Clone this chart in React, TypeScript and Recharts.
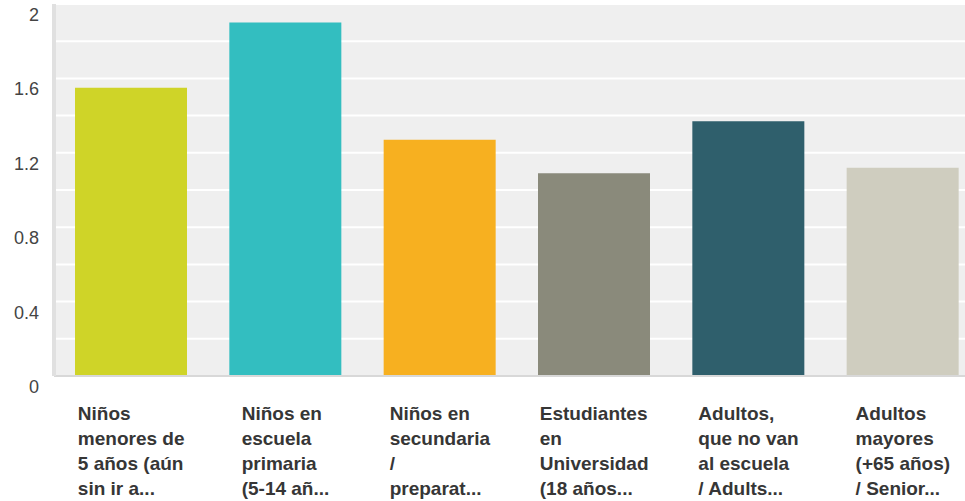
import { BarChart, Bar, Cell, XAxis, YAxis, CartesianGrid } from 'recharts'

const categories = [
  ['Niños', 'menores de', '5 años (aún', 'sin ir a...'],
  ['Niños en', 'escuela', 'primaria', '(5-14 añ...'],
  ['Niños en', 'secundaria', '/', 'preparat...'],
  ['Estudiantes', 'en', 'Universidad', '(18 años...'],
  ['Adultos,', 'que no van', 'al escuela', '/ Adults...'],
  ['Adultos', 'mayores', '(+65 años)', '/ Senior...']
]
const values = [1.55, 1.9, 1.27, 1.09, 1.37, 1.12]
const COLORS = ['#cfd428', '#33bec0', '#f7b020', '#8a8a7b', '#2f5f6c', '#cfcdbf']
const yTicks = [0, 0.2, 0.4, 0.6, 0.8, 1, 1.2, 1.4, 1.6, 1.8, 2]

const FONT = "'Liberation Sans', Arial, sans-serif"

const data = values.map((v, i) => ({ name: String(i), value: v }))

let ctx: CanvasRenderingContext2D | null = null
const measure = (text: string) => {
  if (!ctx) ctx = document.createElement('canvas').getContext('2d')
  if (!ctx) return text.length * 10
  ctx.font = `bold 19px ${FONT}`
  return ctx.measureText(text).width
}

const XTick = (props: any) => {
  const { x, y, payload } = props
  const lines = categories[Number(payload.value)]
  const w = Math.max(...lines.map(measure))
  return (
    <text x={x - w / 2} y={y + 44} fontFamily={FONT} fontSize={19} fontWeight="bold" fill="#363636">
      {lines.map((l, i) => (
        <tspan key={i} x={x - w / 2} dy={i === 0 ? 0 : 25}>
          {l}
        </tspan>
      ))}
    </text>
  )
}

const YTick = (props: any) => {
  const { y, payload, index } = props
  if (index % 2 === 1) return <g />
  const label = String(Number(Number(payload.value).toFixed(1)))
  return (
    <text x={39} y={y + 17} textAnchor="end" fontFamily={FONT} fontSize={18} fill="#444">
      {label}
    </text>
  )
}

export default function App() {
  return (
    <div style={{ position: 'fixed', left: 0, top: 0, width: 965, height: 501, overflow: 'hidden', background: '#fff' }}>
      <BarChart width={980} height={501} data={data} margin={{ top: 4, right: 0, bottom: 0, left: 0 }} barSize={112}>
        <CartesianGrid vertical={false} stroke="#ffffff" strokeWidth={2} fill="#efefef" />
        <XAxis
          dataKey="name"
          height={125}
          tick={<XTick />}
          tickLine={false}
          tickSize={0}
          tickMargin={0}
          interval={0}
          axisLine={{ stroke: '#d8d8d8', strokeWidth: 2 }}
        />
        <YAxis
          width={54}
          domain={[0, 2]}
          ticks={yTicks}
          interval={0}
          tick={<YTick />}
          tickLine={false}
          axisLine={{ stroke: '#e0e0e0', strokeWidth: 4 }}
        />
        <Bar dataKey="value" isAnimationActive={false}>
          {data.map((_, i) => (
            <Cell key={`cell-${i}`} fill={COLORS[i % COLORS.length]} />
          ))}
        </Bar>
      </BarChart>
    </div>
  )
}
